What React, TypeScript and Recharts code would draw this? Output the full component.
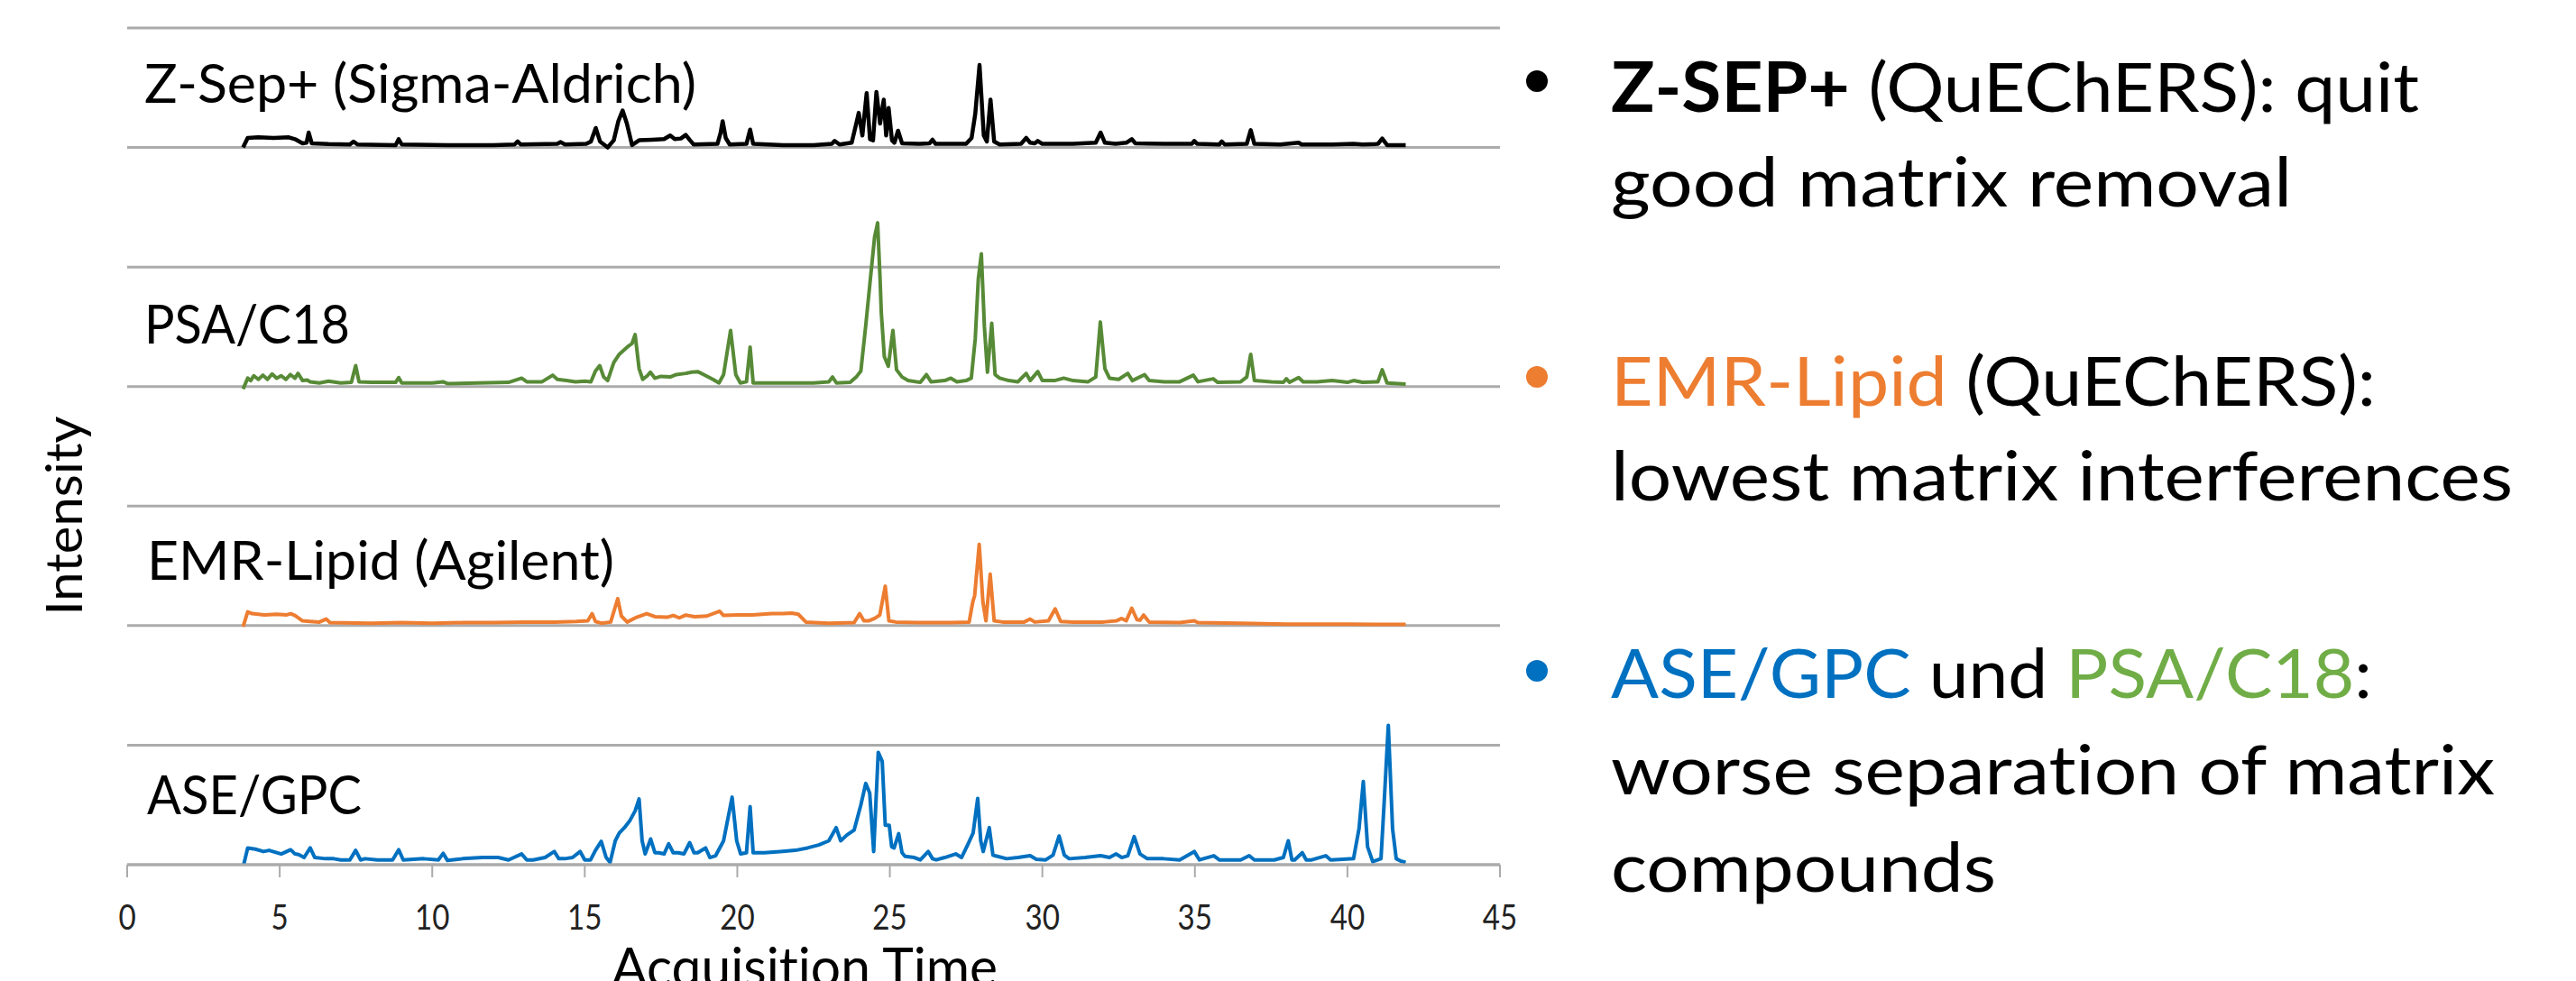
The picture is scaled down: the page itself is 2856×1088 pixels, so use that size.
import React from 'react';
import { LineChart, Line, XAxis, YAxis, CartesianGrid } from 'recharts';

// time (min) / intensity pairs
const zsepPoints = [
  [3.8, 0], [3.95, 0.08], [4.3, 0.085], [4.8, 0.08], [5.3, 0.085], [5.5, 0.07], [5.75, 0.035], [5.88, 0.04],
  [5.95, 0.125], [6.05, 0.035], [6.6, 0.028], [7.3, 0.025], [7.42, 0.05], [7.55, 0.025], [8.8, 0.02], [8.9, 0.07],
  [9.0, 0.025], [10.5, 0.02], [12.0, 0.02], [12.7, 0.025], [12.8, 0.05], [12.9, 0.025], [14.1, 0.03], [14.21, 0.045],
  [14.35, 0.025], [15.05, 0.03], [15.2, 0.05], [15.36, 0.163], [15.5, 0.05], [15.75, 0.0], [15.95, 0.06], [16.1, 0.22],
  [16.24, 0.31], [16.38, 0.2], [16.55, 0.02], [16.78, 0.06], [17.2, 0.065], [17.6, 0.07], [17.8, 0.1], [17.95, 0.07],
  [18.15, 0.075], [18.31, 0.105], [18.45, 0.06], [18.57, 0.025], [19.35, 0.03], [19.45, 0.12], [19.52, 0.22], [19.62, 0.08],
  [19.75, 0.025], [20.3, 0.03], [20.42, 0.15], [20.52, 0.03], [21.5, 0.02], [22.5, 0.02], [23.1, 0.03], [23.19, 0.055],
  [23.35, 0.025], [23.75, 0.04], [23.9, 0.2], [23.98, 0.29], [24.1, 0.1], [24.24, 0.455], [24.35, 0.07], [24.45, 0.06],
  [24.56, 0.465], [24.68, 0.2], [24.8, 0.4], [24.88, 0.1], [24.96, 0.33], [25.07, 0.06], [25.15, 0.04], [25.27, 0.14],
  [25.4, 0.035], [26.0, 0.03], [26.3, 0.035], [26.4, 0.065], [26.5, 0.03], [27.5, 0.03], [27.68, 0.08], [27.8, 0.28],
  [27.94, 0.69], [28.08, 0.1], [28.18, 0.05], [28.3, 0.4], [28.42, 0.05], [28.6, 0.025], [29.3, 0.03], [29.47, 0.08],
  [29.6, 0.04], [29.75, 0.035], [29.85, 0.055], [30.0, 0.03], [31.0, 0.03], [31.75, 0.04], [31.91, 0.125], [32.05, 0.04],
  [32.4, 0.03], [32.75, 0.04], [32.93, 0.07], [33.05, 0.035], [34.0, 0.03], [34.9, 0.03], [34.98, 0.055], [35.08, 0.03],
  [35.8, 0.025], [35.88, 0.05], [35.98, 0.025], [36.7, 0.03], [36.83, 0.145], [36.95, 0.03], [37.8, 0.025], [38.4, 0.04],
  [38.5, 0.025], [39.5, 0.025], [40.2, 0.03], [40.5, 0.025], [41.0, 0.03], [41.14, 0.075], [41.3, 0.02], [41.91, 0.02],
];

const psaPoints = [
  [3.8, -0.02], [3.95, 0.07], [4.05, 0.05], [4.15, 0.09], [4.3, 0.06], [4.45, 0.095], [4.6, 0.06], [4.75, 0.105],
  [4.9, 0.07], [5.05, 0.09], [5.2, 0.06], [5.35, 0.1], [5.5, 0.07], [5.6, 0.11], [5.75, 0.05], [5.9, 0.055],
  [6.0, 0.04], [6.3, 0.03], [6.6, 0.045], [7.0, 0.03], [7.35, 0.035], [7.49, 0.175], [7.6, 0.04], [8.0, 0.035],
  [8.8, 0.035], [8.9, 0.075], [9.0, 0.03], [10.0, 0.03], [10.35, 0.04], [10.5, 0.025], [11.5, 0.03], [12.5, 0.035],
  [12.93, 0.07], [13.1, 0.04], [13.6, 0.04], [13.95, 0.095], [14.1, 0.06], [14.4, 0.05], [14.7, 0.04], [15.0, 0.045],
  [15.2, 0.04], [15.35, 0.13], [15.49, 0.175], [15.62, 0.08], [15.75, 0.05], [15.95, 0.2], [16.13, 0.27], [16.39, 0.33],
  [16.55, 0.36], [16.65, 0.435], [16.78, 0.15], [16.9, 0.06], [17.05, 0.09], [17.15, 0.12], [17.3, 0.07], [17.5, 0.085],
  [17.8, 0.08], [18.0, 0.1], [18.3, 0.11], [18.5, 0.12], [18.7, 0.125], [18.9, 0.1], [19.2, 0.06], [19.4, 0.03],
  [19.55, 0.1], [19.78, 0.47], [19.95, 0.1], [20.1, 0.03], [20.3, 0.04], [20.42, 0.33], [20.52, 0.03], [21.5, 0.03],
  [22.5, 0.03], [23.0, 0.04], [23.12, 0.08], [23.25, 0.03], [23.7, 0.035], [23.9, 0.08], [24.05, 0.13], [24.21, 0.51],
  [24.37, 0.92], [24.5, 1.25], [24.6, 1.37], [24.68, 0.9], [24.72, 0.62], [24.82, 0.25], [24.95, 0.17], [25.1, 0.47],
  [25.22, 0.14], [25.4, 0.08], [25.6, 0.05], [26.0, 0.035], [26.2, 0.1], [26.35, 0.04], [26.8, 0.05], [27.0, 0.07],
  [27.2, 0.04], [27.5, 0.05], [27.67, 0.07], [27.8, 0.4], [27.9, 0.9], [28.0, 1.11], [28.1, 0.5], [28.2, 0.12],
  [28.34, 0.53], [28.45, 0.1], [28.6, 0.07], [28.9, 0.05], [29.2, 0.04], [29.47, 0.11], [29.6, 0.05], [29.85, 0.125],
  [30.0, 0.05], [30.4, 0.05], [30.7, 0.07], [31.0, 0.05], [31.5, 0.04], [31.75, 0.08], [31.9, 0.54], [32.05, 0.15],
  [32.2, 0.07], [32.5, 0.06], [32.8, 0.11], [32.95, 0.05], [33.35, 0.1], [33.5, 0.05], [34.0, 0.04], [34.5, 0.04],
  [34.95, 0.095], [35.1, 0.04], [35.6, 0.065], [35.75, 0.035], [36.5, 0.04], [36.7, 0.08], [36.83, 0.27], [36.95, 0.05],
  [37.5, 0.04], [37.9, 0.035], [38.0, 0.065], [38.1, 0.035], [38.4, 0.075], [38.55, 0.04], [39.0, 0.04], [39.5, 0.05],
  [40.0, 0.035], [40.2, 0.05], [40.5, 0.035], [41.0, 0.04], [41.14, 0.14], [41.3, 0.03], [41.91, 0.02],
];

const emrPoints = [
  [3.8, -0.01], [3.95, 0.115], [4.1, 0.1], [4.5, 0.09], [4.9, 0.095], [5.23, 0.09], [5.36, 0.1], [5.5, 0.085],
  [5.75, 0.04], [6.0, 0.035], [6.3, 0.03], [6.52, 0.055], [6.65, 0.025], [8.0, 0.02], [9.0, 0.025], [10.0, 0.02],
  [11.0, 0.025], [12.0, 0.025], [13.0, 0.03], [14.0, 0.03], [14.72, 0.035], [15.1, 0.04], [15.24, 0.1], [15.35, 0.035],
  [15.54, 0.02], [15.85, 0.03], [15.98, 0.14], [16.08, 0.225], [16.2, 0.08], [16.39, 0.03], [16.7, 0.07], [17.03, 0.1],
  [17.3, 0.075], [17.7, 0.07], [17.9, 0.085], [18.1, 0.065], [18.31, 0.088], [18.6, 0.075], [19.0, 0.08], [19.42, 0.12],
  [19.55, 0.085], [20.0, 0.09], [20.5, 0.09], [21.13, 0.1], [21.5, 0.1], [21.78, 0.105], [22.0, 0.095], [22.25, 0.03],
  [23.0, 0.02], [23.83, 0.025], [24.01, 0.1], [24.15, 0.04], [24.3, 0.04], [24.5, 0.06], [24.67, 0.088], [24.85, 0.33],
  [24.97, 0.04], [25.2, 0.03], [26.0, 0.025], [27.0, 0.025], [27.6, 0.03], [27.72, 0.2], [27.78, 0.25], [27.93, 0.68],
  [28.05, 0.2], [28.15, 0.04], [28.29, 0.43], [28.42, 0.04], [28.7, 0.03], [29.4, 0.03], [29.6, 0.055], [29.75, 0.03],
  [30.2, 0.04], [30.42, 0.14], [30.6, 0.035], [31.0, 0.03], [32.0, 0.03], [32.42, 0.04], [32.6, 0.06], [32.75, 0.04],
  [32.93, 0.146], [33.1, 0.05], [33.2, 0.045], [33.32, 0.088], [33.5, 0.03], [34.5, 0.025], [34.98, 0.04], [35.1, 0.025],
  [36.5, 0.02], [38.0, 0.012], [40.0, 0.012], [41.91, 0.01],
];

const asePoints = [
  [3.82, 0], [3.95, 0.14], [4.2, 0.13], [4.47, 0.11], [4.65, 0.12], [4.85, 0.105], [5.05, 0.09], [5.36, 0.125],
  [5.5, 0.09], [5.62, 0.085], [5.8, 0.06], [6.0, 0.14], [6.15, 0.06], [6.5, 0.05], [6.77, 0.05], [7.0, 0.04],
  [7.3, 0.04], [7.49, 0.12], [7.65, 0.04], [7.8, 0.05], [8.2, 0.04], [8.7, 0.04], [8.9, 0.125], [9.05, 0.04],
  [9.72, 0.05], [10.2, 0.04], [10.36, 0.095], [10.5, 0.035], [11.0, 0.05], [11.65, 0.06], [12.16, 0.06], [12.5, 0.04],
  [12.93, 0.09], [13.1, 0.04], [13.31, 0.04], [13.7, 0.06], [14.0, 0.11], [14.15, 0.05], [14.34, 0.05], [14.6, 0.06],
  [14.85, 0.11], [15.0, 0.04], [15.19, 0.04], [15.35, 0.12], [15.54, 0.195], [15.7, 0.06], [15.83, 0.02], [16.0, 0.2],
  [16.13, 0.265], [16.3, 0.31], [16.47, 0.365], [16.65, 0.45], [16.78, 0.55], [16.88, 0.2], [16.98, 0.09], [17.16, 0.215],
  [17.3, 0.1], [17.42, 0.1], [17.6, 0.09], [17.75, 0.175], [17.9, 0.1], [18.06, 0.1], [18.25, 0.09], [18.44, 0.185],
  [18.58, 0.1], [18.7, 0.1], [18.96, 0.14], [19.1, 0.06], [19.29, 0.075], [19.55, 0.2], [19.83, 0.565], [19.98, 0.2],
  [20.11, 0.09], [20.3, 0.1], [20.42, 0.485], [20.52, 0.1], [20.88, 0.1], [21.4, 0.11], [21.9, 0.12], [22.3, 0.14],
  [22.67, 0.165], [23.0, 0.2], [23.24, 0.31], [23.39, 0.2], [23.6, 0.25], [23.83, 0.29], [24.05, 0.5], [24.21, 0.68],
  [24.34, 0.6], [24.47, 0.11], [24.62, 0.94], [24.75, 0.865], [24.85, 0.33], [24.98, 0.33], [25.06, 0.15], [25.14, 0.14],
  [25.29, 0.26], [25.4, 0.1], [25.5, 0.07], [25.8, 0.06], [26.0, 0.04], [26.26, 0.11], [26.4, 0.05], [26.52, 0.04],
  [26.8, 0.06], [27.16, 0.09], [27.35, 0.06], [27.55, 0.165], [27.73, 0.265], [27.88, 0.555], [27.98, 0.2], [28.06, 0.11],
  [28.26, 0.31], [28.38, 0.08], [28.44, 0.075], [28.83, 0.05], [29.2, 0.06], [29.6, 0.075], [29.8, 0.045], [30.11, 0.04],
  [30.35, 0.08], [30.55, 0.24], [30.72, 0.08], [30.88, 0.05], [31.4, 0.06], [31.91, 0.075], [32.2, 0.06], [32.42, 0.09],
  [32.6, 0.06], [32.8, 0.075], [33.01, 0.235], [33.2, 0.09], [33.44, 0.05], [33.96, 0.05], [34.5, 0.04], [34.98, 0.11],
  [35.15, 0.04], [35.62, 0.075], [35.8, 0.04], [36.5, 0.04], [36.78, 0.075], [36.95, 0.04], [37.6, 0.04], [37.9, 0.06],
  [38.06, 0.2], [38.18, 0.04], [38.27, 0.04], [38.52, 0.1], [38.65, 0.04], [38.83, 0.04], [39.29, 0.075], [39.45, 0.04],
  [39.85, 0.045], [40.2, 0.05], [40.38, 0.3], [40.52, 0.695], [40.66, 0.15], [40.83, 0.025], [41.1, 0.05], [41.2, 0.5],
  [41.34, 1.165], [41.48, 0.3], [41.6, 0.05], [41.75, 0.03], [41.91, 0.02],
];

const timeTicks = [0, 5, 10, 15, 20, 25, 30, 35, 40, 45];
// each trace gets one band two grid units high; seven grid units overall
const gridValues = [0, 1, 2, 3, 4, 5, 6, 7];

const toRows = (pts: number[][]) => pts.map(([t, v]) => ({ t, v }));

const GRID = '#ABABAB';
const FONT = 'Lato, "Open Sans", sans-serif';
const noLig = { fontVariantLigatures: 'none' as const };

const TimeTick = (props: any) => {
  const { x, y, payload } = props;
  return (
    <g transform={`translate(${x},${y})`}>
      <text transform="scale(0.85,1)" textAnchor="middle" dy={56} fontSize={39} fill="#222" fontFamily={FONT}>
        {payload.value}
      </text>
    </g>
  );
};

const Chromatograms = () => (
  <LineChart width={1700} height={1088} margin={{ top: 31, right: 37, left: 141, bottom: 0 }}>
    <CartesianGrid yAxisId="ase" vertical={false} horizontalValues={gridValues} stroke={GRID} strokeWidth={3} />
    <XAxis
      type="number"
      dataKey="t"
      domain={[0, 45]}
      ticks={timeTicks}
      height={129}
      tickSize={14}
      axisLine={{ stroke: GRID, strokeWidth: 3 }}
      tickLine={{ stroke: GRID, strokeWidth: 2 }}
      tick={<TimeTick />}
      allowDataOverflow
    />
    <YAxis yAxisId="ase" type="number" domain={[0, 7]} ticks={gridValues} hide allowDataOverflow />
    <YAxis yAxisId="emr" type="number" domain={[-2, 5]} hide allowDataOverflow />
    <YAxis yAxisId="psa" type="number" domain={[-4, 3]} hide allowDataOverflow />
    <YAxis yAxisId="zsep" type="number" domain={[-6, 1]} hide allowDataOverflow />
    <Line yAxisId="zsep" data={toRows(zsepPoints)} dataKey="v" type="linear" stroke="#000000" strokeWidth={4.5} strokeLinejoin="round" dot={false} isAnimationActive={false} />
    <Line yAxisId="psa" data={toRows(psaPoints)} dataKey="v" type="linear" stroke="#578A36" strokeWidth={4} strokeLinejoin="round" dot={false} isAnimationActive={false} />
    <Line yAxisId="emr" data={toRows(emrPoints)} dataKey="v" type="linear" stroke="#ED7D31" strokeWidth={4} strokeLinejoin="round" dot={false} isAnimationActive={false} />
    <Line yAxisId="ase" data={toRows(asePoints)} dataKey="v" type="linear" stroke="#0070C0" strokeWidth={4} strokeLinejoin="round" dot={false} isAnimationActive={false} />
  </LineChart>
);

const Labels = () => (
  <svg width={2856} height={1088} style={{ position: 'absolute', left: 0, top: 0, pointerEvents: 'none', ...noLig }} fontFamily={FONT}>
    <g fontSize={60} fill="#000">
      <text x={160} y={114} textLength={612} lengthAdjust="spacingAndGlyphs">Z-Sep+ (Sigma-Aldrich)</text>
      <text x={160} y={381} textLength={228} lengthAdjust="spacingAndGlyphs">PSA/C18</text>
      <text x={163} y={643} textLength={518} lengthAdjust="spacingAndGlyphs">EMR-Lipid (Agilent)</text>
      <text x={163} y={903} textLength={238} lengthAdjust="spacingAndGlyphs">ASE/GPC</text>
      <text x={892} y={1094} textAnchor="middle" textLength={428} lengthAdjust="spacingAndGlyphs">Acquisition Time</text>
    </g>
    <text transform="translate(91,572) rotate(-90)" textAnchor="middle" fontSize={57} textLength={221} lengthAdjust="spacingAndGlyphs">
      Intensity
    </text>

    <g fontSize={76} fill="#000">
      <circle cx={1704} cy={90} r={12} fill="#000" />
      <text x={1786} y={124} textLength={896} lengthAdjust="spacingAndGlyphs">
        <tspan fontWeight={700}>Z-SEP+</tspan> (QuEChERS): quit
      </text>
      <text x={1786} y={229} textLength={755} lengthAdjust="spacingAndGlyphs">good matrix removal</text>

      <circle cx={1704} cy={418} r={12} fill="#ED7D31" />
      <text x={1786} y={450} textLength={848} lengthAdjust="spacingAndGlyphs">
        <tspan fill="#ED7D31">EMR-Lipid</tspan> (QuEChERS):
      </text>
      <text x={1786} y={555} textLength={1000} lengthAdjust="spacingAndGlyphs">lowest matrix interferences</text>

      <circle cx={1704} cy={744} r={12} fill="#0070C0" />
      <text x={1786} y={774} textLength={844} lengthAdjust="spacingAndGlyphs">
        <tspan fill="#0070C0">ASE/GPC</tspan> und <tspan fill="#70AD47">PSA/C18</tspan>:
      </text>
      <text x={1786} y={881} textLength={980} lengthAdjust="spacingAndGlyphs">worse separation of matrix</text>
      <text x={1786} y={989} textLength={427} lengthAdjust="spacingAndGlyphs">compounds</text>
    </g>
  </svg>
);

export default function App() {
  return (
    <div style={{ position: 'absolute', left: 0, top: 0, width: 2856, height: 1088, background: '#fff', overflow: 'hidden' }}>
      <Chromatograms />
      <Labels />
    </div>
  );
}
